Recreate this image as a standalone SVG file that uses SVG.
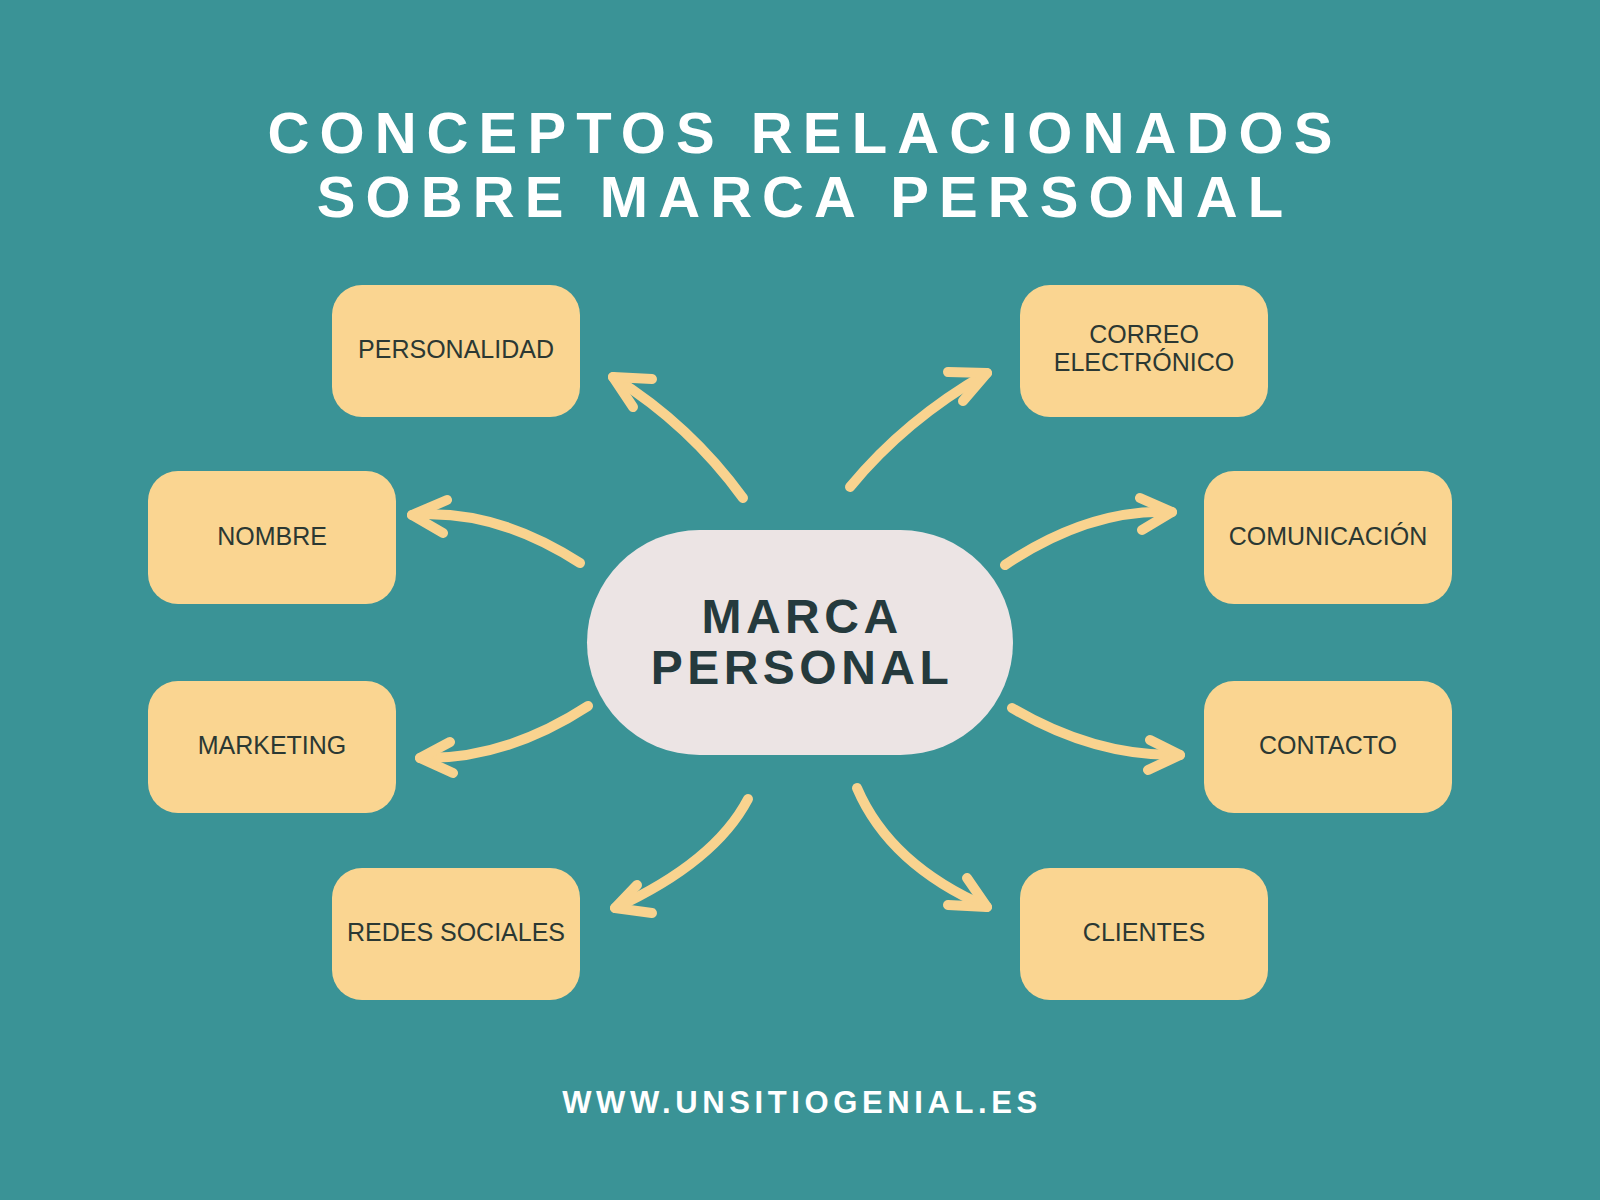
<svg xmlns="http://www.w3.org/2000/svg" width="1600" height="1200" viewBox="0 0 1600 1200">
<style>
.bg{fill:#3a9396}
.box{fill:#fad591}
.lbl{font-family:"Liberation Sans",Arial,sans-serif;font-size:25px;fill:#2b3833;text-anchor:middle}
.title{font-family:"Liberation Sans",Arial,sans-serif;font-weight:bold;font-size:58px;fill:#ffffff;text-anchor:middle;letter-spacing:10.1px}
.center{font-family:"Liberation Sans",Arial,sans-serif;font-weight:bold;font-size:48px;fill:#253a3d;text-anchor:middle;letter-spacing:4.5px}
.foot{font-family:"Liberation Sans",Arial,sans-serif;font-weight:bold;font-size:31px;fill:#ffffff;text-anchor:middle;letter-spacing:4.6px}
.arr{fill:none;stroke:#f9d38f;stroke-width:10;stroke-linecap:round;stroke-linejoin:round}
</style>
<rect class="bg" x="0" y="0" width="1600" height="1200"/>
<g id="title">
<text class="title" x="805" y="153">CONCEPTOS RELACIONADOS</text>
<text class="title" x="805" y="217">SOBRE MARCA PERSONAL</text>
</g>
<g id="connectors">
<path class="arr" d="M743,498 Q690,425 613,377"/>
<path class="arr" d="M652,379 L613,377 L633,407"/>
<path class="arr" d="M850,487 Q905,420 987,373"/>
<path class="arr" d="M948,372 L987,373 L963,401"/>
<path class="arr" d="M580,563 Q495,508 412,515"/>
<path class="arr" d="M447,500 L412,515 L443,533"/>
<path class="arr" d="M1005,565 Q1090,508 1172,512"/>
<path class="arr" d="M1140,498 L1172,512 L1142,530"/>
<path class="arr" d="M588,706 Q505,760 420,758"/>
<path class="arr" d="M450,742 L420,758 L453,773"/>
<path class="arr" d="M1012,708 Q1095,757 1180,755"/>
<path class="arr" d="M1150,740 L1180,755 L1148,770"/>
<path class="arr" d="M748,799 Q715,862 615,908"/>
<path class="arr" d="M637,885 L615,908 L652,913"/>
<path class="arr" d="M857,788 Q890,865 987,907"/>
<path class="arr" d="M967,878 L987,907 L948,905"/>
</g>
<g id="node-center">
<rect x="587" y="530" width="426" height="225" rx="112.5" fill="#ece4e4"/>
<text class="center" x="802" y="633">MARCA</text>
<text class="center" x="802" y="684">PERSONAL</text>
</g>
<g id="node-personalidad">
<rect class="box" x="332" y="285" width="248" height="132" rx="30"/>
<text class="lbl" x="456" y="358">PERSONALIDAD</text>
</g>
<g id="node-correo">
<rect class="box" x="1020" y="285" width="248" height="132" rx="30"/>
<text class="lbl" x="1144" y="343">CORREO</text>
<text class="lbl" x="1144" y="371">ELECTRÓNICO</text>
</g>
<g id="node-nombre">
<rect class="box" x="148" y="471" width="248" height="133" rx="30"/>
<text class="lbl" x="272" y="545">NOMBRE</text>
</g>
<g id="node-comunicacion">
<rect class="box" x="1204" y="471" width="248" height="133" rx="30"/>
<text class="lbl" x="1328" y="545">COMUNICACIÓN</text>
</g>
<g id="node-marketing">
<rect class="box" x="148" y="681" width="248" height="132" rx="30"/>
<text class="lbl" x="272" y="754">MARKETING</text>
</g>
<g id="node-contacto">
<rect class="box" x="1204" y="681" width="248" height="132" rx="30"/>
<text class="lbl" x="1328" y="754">CONTACTO</text>
</g>
<g id="node-redes">
<rect class="box" x="332" y="868" width="248" height="132" rx="30"/>
<text class="lbl" x="456" y="941">REDES SOCIALES</text>
</g>
<g id="node-clientes">
<rect class="box" x="1020" y="868" width="248" height="132" rx="30"/>
<text class="lbl" x="1144" y="941">CLIENTES</text>
</g>
<g id="footer">
<text class="foot" x="802" y="1113">WWW.UNSITIOGENIAL.ES</text>
</g>
</svg>
